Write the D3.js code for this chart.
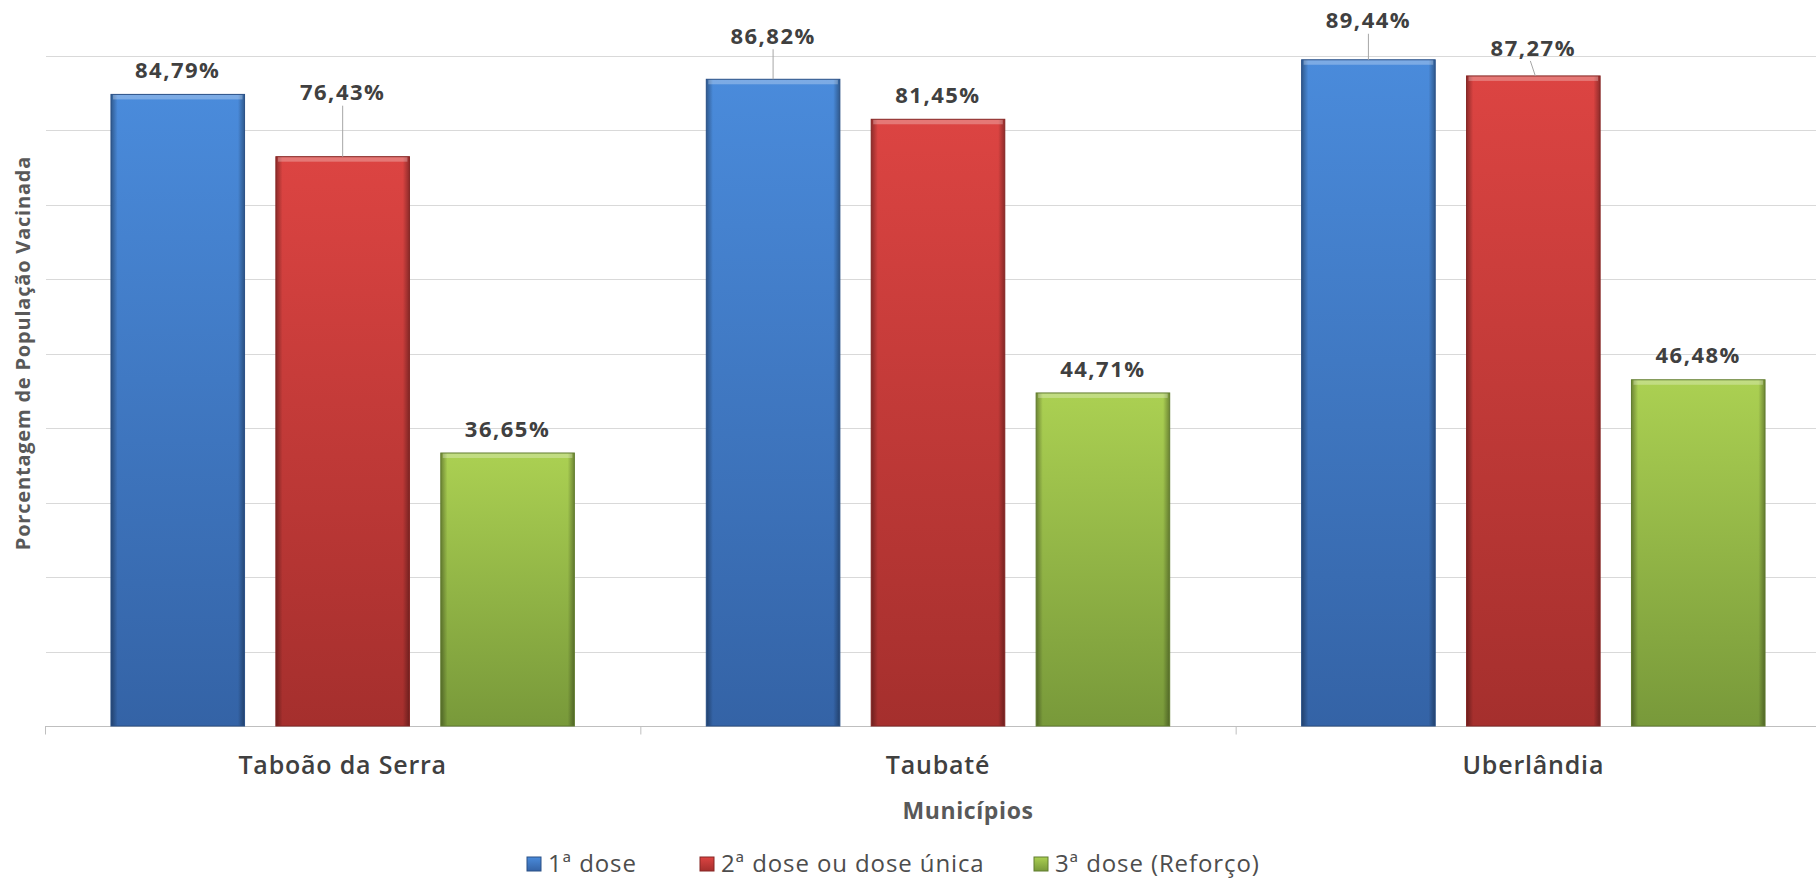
<!DOCTYPE html>
<html>
<head>
<meta charset="utf-8">
<script src="https://cdn.jsdelivr.net/npm/d3@7"></script>
<style>
  body { margin: 0; background: #fff; }
  text { font-family: "Open Sans", Lato, sans-serif; }
</style>
</head>
<body>
<div id="grafico"></div>
<script>
// dados do gráfico
const municipios = ["Taboão da Serra", "Taubaté", "Uberlândia"];
const doses = ["1ª dose", "2ª dose ou dose única", "3ª dose (Reforço)"];
const dose1 = [84.79, 86.82, 89.44];
const dose2 = [76.43, 81.45, 87.27];
const dose3 = [36.65, 44.71, 46.48];
const gradeY = [0, 10, 20, 30, 40, 50, 60, 70, 80, 90];

// deslocamento extra (px) dos rótulos que foram arrastados no original
const rotuloExtra = [[0, 19, 15], [40, 0, 4], [0, 0, 0]];

const valores = [dose1, dose2, dose3];
const cores = [
    { topo: "#4a8bdb", base: "#3463a6" },
    { topo: "#dc4442", base: "#a52f2d" },
    { topo: "#abd052", base: "#78993a" }
];

let width = 1816, height = 880;
let svg = d3.select("#grafico").append("svg")
    .attr("width", width)
    .attr("height", height);

// gradientes
let defs = svg.append("defs");
cores.forEach((c, i) => {
    let g = defs.append("linearGradient").attr("id", "grad" + i)
        .attr("x1", 0).attr("y1", 0).attr("x2", 0).attr("y2", 1);
    g.append("stop").attr("offset", "0%").attr("stop-color", c.topo);
    g.append("stop").attr("offset", "100%").attr("stop-color", c.base);
});
let borda = defs.append("linearGradient").attr("id", "borda")
    .attr("x1", 0).attr("y1", 0).attr("x2", 1).attr("y2", 0);
[[0, 0.35], [0.05, 0], [0.95, 0], [1, 0.35]].forEach(s =>
    borda.append("stop").attr("offset", s[0]).attr("stop-color", "#000").attr("stop-opacity", s[1]));

// escalas
let x = d3.scaleBand().domain(municipios).range([45, 1831]).paddingInner(0).paddingOuter(0);
let xs = d3.scaleBand().domain(d3.range(doses.length)).range([0, x.bandwidth()])
    .paddingInner(0.19).paddingOuter(0.40);
let y = d3.scaleLinear().domain([0, 90]).range([726, 55.6]);

// grade
svg.append("g").selectAll("line").data(gradeY.slice(1)).join("line")
    .attr("x1", 46).attr("x2", width)
    .attr("y1", d => Math.round(y(d)) + 0.5).attr("y2", d => Math.round(y(d)) + 0.5)
    .attr("stroke", "#d9d9d9").attr("stroke-width", 1);

// eixo x
let eixo = svg.append("g").attr("transform", `translate(0, ${Math.round(y(0)) + 0.5})`);
eixo.append("line").attr("x1", 45).attr("x2", 1831).attr("stroke", "#bfbfbf");
let limites = municipios.map(m => x(m)).concat([x(municipios[municipios.length - 1]) + x.bandwidth()]);
eixo.selectAll(".tk").data(limites).join("line")
    .attr("x1", d => d + 0.5).attr("x2", d => d + 0.5)
    .attr("y1", 0).attr("y2", 8).attr("stroke", "#bfbfbf");
eixo.selectAll(".cat").data(municipios).join("text")
    .attr("x", d => x(d) + x.bandwidth() / 2)
    .attr("y", 47)
    .attr("text-anchor", "middle")
    .attr("font-size", 25).attr("font-weight", 600)
    .attr("letter-spacing", 0.8)
    .attr("fill", "#404040")
    .text(d => d);

// barras
let fmt = v => d3.format(".2f")(v).replace(".", ",") + "%";
valores.forEach((serie, s) => {
    let g = svg.append("g");
    serie.forEach((v, i) => {
        let bx = x(municipios[i]) + xs(s);
        let by = y(v);
        let bw = xs.bandwidth();
        let bh = y(0) - y(v);
        g.append("rect").attr("x", bx).attr("y", by).attr("width", bw).attr("height", bh)
            .attr("fill", `url(#grad${s})`);
        g.append("rect").attr("x", bx).attr("y", by).attr("width", bw).attr("height", bh)
            .attr("fill", "url(#borda)");
        // bisel superior
        g.append("rect").attr("x", bx + 2).attr("y", by).attr("width", bw - 4).attr("height", 5)
            .attr("fill", "#fff").attr("opacity", 0.28);
        g.append("rect").attr("x", bx).attr("y", by).attr("width", bw).attr("height", bh)
            .attr("fill", "none").attr("stroke", d3.color(cores[s].base).darker(0.6)).attr("stroke-width", 1);

        // rótulo
        let cx = bx + bw / 2;
        let ly = by - 24 - rotuloExtra[s][i];
        if (rotuloExtra[s][i] > 8) {
            svg.append("line").attr("x1", cx).attr("x2", cx)
                .attr("y1", ly + 13).attr("y2", by)
                .attr("stroke", "#a6a6a6").attr("stroke-width", 1);
        } else if (rotuloExtra[s][i] > 0) {
            svg.append("line").attr("x1", cx - 3).attr("x2", cx + 2)
                .attr("y1", ly + 13).attr("y2", by)
                .attr("stroke", "#a6a6a6").attr("stroke-width", 1);
        }
        svg.append("text").attr("x", cx).attr("y", ly)
            .attr("dy", "0.35em")
            .attr("text-anchor", "middle")
            .attr("font-size", 22).attr("font-weight", 700)
            .attr("letter-spacing", 1.5)
            .attr("fill", "#404040")
            .text(fmt(v));
    });
});

// título eixo y
svg.append("text")
    .attr("transform", "translate(23, 353) rotate(-90)")
    .attr("dy", "0.35em")
    .attr("text-anchor", "middle")
    .attr("font-size", 20).attr("font-weight", 700)
    .attr("letter-spacing", 0.8)
    .attr("fill", "#595959")
    .text("Porcentagem de População Vacinada");

// título eixo x
svg.append("text")
    .attr("x", 968).attr("y", 811)
    .attr("dy", "0.35em")
    .attr("text-anchor", "middle")
    .attr("font-size", 23).attr("font-weight", 700)
    .attr("letter-spacing", 0.6)
    .attr("fill", "#595959")
    .text("Municípios");

// legenda
let legX = [527, 700, 1034];
let leg = svg.append("g");
doses.forEach((d, i) => {
    leg.append("rect").attr("x", legX[i]).attr("y", 857).attr("width", 14).attr("height", 14)
        .attr("fill", `url(#grad${i})`).attr("stroke", d3.color(cores[i].base).darker(0.6));
    leg.append("text").attr("x", legX[i] + 21).attr("y", 864)
        .attr("dy", "0.35em")
        .attr("font-size", 24)
        .attr("letter-spacing", 0.9)
        .attr("fill", "#4d4d4d")
        .text(d);
});
</script>
</body>
</html>
